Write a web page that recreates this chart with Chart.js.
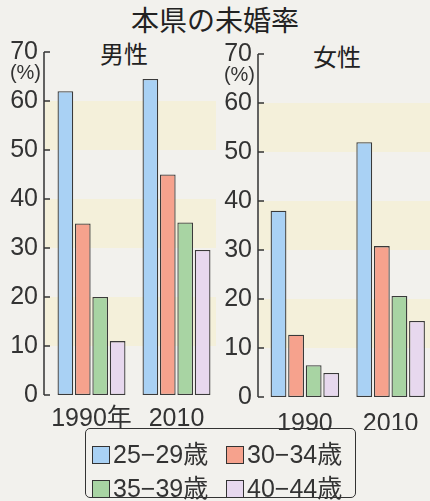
<!DOCTYPE html>
<html><head><meta charset="utf-8">
<script src="https://cdn.jsdelivr.net/npm/chart.js@4"></script>
<style>
html,body{margin:0;padding:0;width:430px;height:501px;overflow:hidden;background:#f2f1ed;}
#wrap{position:relative;width:430px;height:501px;}
.t{position:absolute;font-family:"Noto Sans CJK JP",sans-serif;color:#222;white-space:nowrap;line-height:1;}
canvas{position:absolute;}
#legend{position:absolute;left:85px;top:428px;width:269px;height:68px;border:1.5px solid #333;border-radius:5px;}
.li{position:absolute;font-family:"Liberation Sans","Noto Sans CJK JP",sans-serif;font-size:25px;color:#333;line-height:1;white-space:nowrap;}
.li span.b{display:inline-block;width:16px;height:16px;border:1.2px solid #333;vertical-align:-1px;margin-right:3px;}
.li span.k{font-family:"Noto Sans CJK JP",sans-serif;}
</style></head>
<body><div id="wrap">
<div class="t" style="left:0;width:430px;text-align:center;top:5px;font-size:28px;">本県の未婚率</div>
<div class="t" style="left:100px;top:41px;font-size:24px;">男性</div>
<div class="t" style="left:313px;top:44px;font-size:24px;">女性</div>
<div style="position:absolute;left:0;top:0;width:225px;height:430px;"><canvas id="c1"></canvas></div>
<div style="position:absolute;left:216px;top:0;width:220px;height:430px;"><canvas id="c2"></canvas></div>
<div id="legend"></div>
</div>
<script>
const categoriesMale = ['1990年', '2010'];
const categoriesFemale = ['1990', '2010'];
const seriesLabels = ['25−29歳', '30−34歳', '35−39歳', '40−44歳'];
const male25_29 = [62, 64.5];
const male30_34 = [35, 45];
const male35_39 = [20, 35.2];
const male40_44 = [11, 29.6];
const female25_29 = [38, 52];
const female30_34 = [12.7, 30.8];
const female35_39 = [6.5, 20.6];
const female40_44 = [4.9, 15.5];
const yTicks = [0, 10, 20, 30, 40, 50, 60, 70];
const colors = ['#a9d1f4', '#f6a28d', '#a8d4a3', '#e7d8ee'];
const bands = [[50, 60], [30, 40], [10, 20]];

const legend = document.getElementById('legend');
const pos = [[6, 11], [140, 11], [6, 45], [140, 45]];
seriesLabels.forEach((l, i) => {
  const d = document.createElement('div');
  d.className = 'li';
  d.style.left = pos[i][0] + 'px';
  d.style.top = pos[i][1] + 'px';
  const m = l.match(/^(.*?)(歳)$/);
  d.innerHTML = '<span class="b" style="background:' + colors[i] + '"></span>' + m[1] + '<span class="k">' + m[2] + '</span>';
  legend.appendChild(d);
});

function makeChart(id, cats, series, cfg) {
  const axisPlugin = {
    id: 'axisPlugin' + id,
    beforeDatasetsDraw(chart) {
      const ctx = chart.ctx, y = chart.scales.y;
      ctx.save();
      ctx.fillStyle = '#f4f0da';
      bands.forEach(b => {
        const y1 = y.getPixelForValue(b[1]), y0 = y.getPixelForValue(b[0]);
        ctx.fillRect(cfg.axisX + 1, y1, cfg.bandRight - cfg.axisX - 1, y0 - y1);
      });
      ctx.restore();
    },
    afterDraw(chart) {
      const ctx = chart.ctx, y = chart.scales.y;
      ctx.save();
      ctx.strokeStyle = '#333';
      ctx.lineWidth = 1.5;
      ctx.beginPath();
      ctx.moveTo(cfg.axisX, y.getPixelForValue(0));
      ctx.lineTo(cfg.axisX, y.getPixelForValue(70));
      yTicks.forEach(v => {
        const p = y.getPixelForValue(v);
        ctx.moveTo(cfg.axisX, p);
        ctx.lineTo(cfg.axisX + 6, p);
      });
      ctx.stroke();
      ctx.fillStyle = '#333';
      ctx.font = '20px "Liberation Sans", sans-serif';
      ctx.textAlign = 'right';
      ctx.textBaseline = 'middle';
      ctx.fillText('(%)', cfg.axisX - 3, y.getPixelForValue(65.6));
      ctx.restore();
    }
  };
  return new Chart(document.getElementById(id), {
    type: 'bar',
    data: {
      labels: cats,
      datasets: series.map((s, i) => ({
        label: seriesLabels[i],
        data: s,
        backgroundColor: colors[i],
        borderColor: '#3a3a3a',
        borderWidth: 1.3,
        borderSkipped: false,
        categoryPercentage: 0.82,
        barPercentage: 0.9
      }))
    },
    options: {
      responsive: true,
      maintainAspectRatio: false,
      animation: false,
      events: [],
      layout: { padding: { top: cfg.top, right: cfg.right, left: 0, bottom: 0 } },
      plugins: { legend: { display: false }, tooltip: { enabled: false } },
      scales: {
        x: {
          grid: { display: false },
          border: { display: false },
          ticks: { color: '#333', padding: cfg.xPad, maxRotation: 0, minRotation: 0, autoSkip: false,
                   font: { size: 25, family: '"Liberation Sans", "Noto Sans CJK JP", sans-serif' } },
          afterFit(s) { s.height = cfg.xHeight; }
        },
        y: {
          min: 0, max: 70,
          grid: { display: false, drawTicks: false },
          border: { display: false },
          ticks: { stepSize: 10, color: '#333', padding: cfg.yPad, font: { size: 25, family: '"Liberation Sans", sans-serif' } },
          afterFit(s) { s.width = cfg.yWidth; }
        }
      }
    },
    plugins: [axisPlugin]
  });
}

makeChart('c1', categoriesMale, [male25_29, male30_34, male35_39, male40_44],
  { axisX: 44, bandRight: 216, top: 52, right: 6, yWidth: 49, yPad: 11, xHeight: 35, xPad: 1 });
makeChart('c2', categoriesFemale, [female25_29, female30_34, female35_39, female40_44],
  { axisX: 42, bandRight: 220, top: 54, right: 2.5, yWidth: 46, yPad: 10, xHeight: 33, xPad: 4 });
</script>
</body></html>
